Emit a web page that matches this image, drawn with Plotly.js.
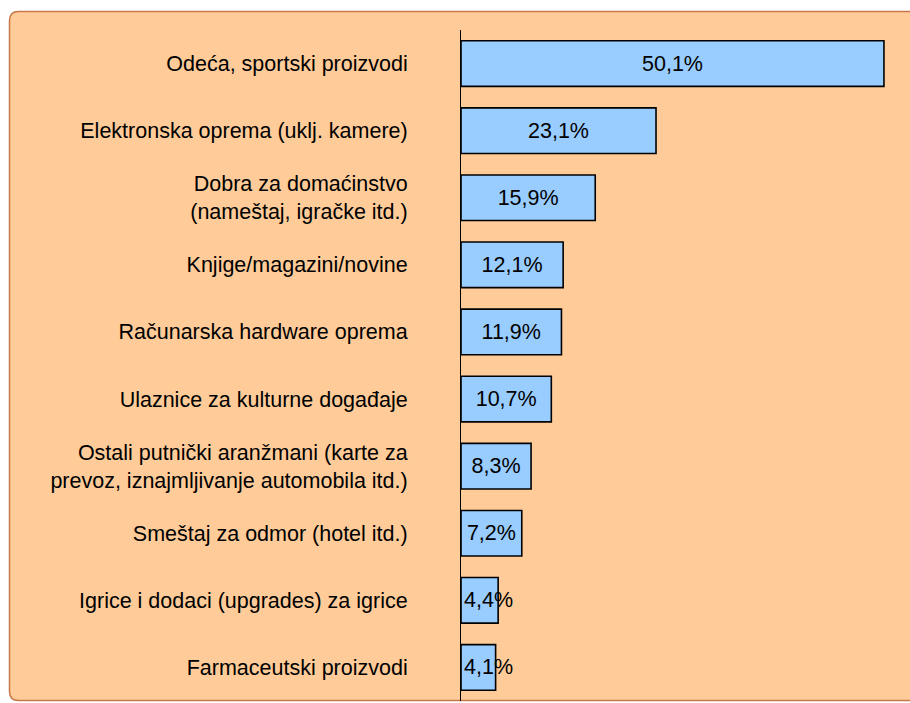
<!DOCTYPE html>
<html>
<head>
<meta charset="utf-8">
<script src="https://cdn.plot.ly/plotly-3.0.1.min.js"></script>
<style>html,body{margin:0;padding:0;background:#fff;}#chart{width:910px;height:703px;}</style>
</head>
<body>
<div id="chart"></div>
<script>
const categories = [
  "Odeća, sportski proizvodi",
  "Elektronska oprema (uklj. kamere)",
  "Dobra za domaćinstvo<br>(nameštaj, igračke itd.)",
  "Knjige/magazini/novine",
  "Računarska hardware oprema",
  "Ulaznice za kulturne događaje",
  "Ostali putnički aranžmani (karte za<br>prevoz, iznajmljivanje automobila itd.)",
  "Smeštaj za odmor (hotel itd.)",
  "Igrice i dodaci (upgrades) za igrice",
  "Farmaceutski proizvodi"
];
const values = [50.1, 23.1, 15.9, 12.1, 11.9, 10.7, 8.3, 7.2, 4.4, 4.1];
const labels = ["50,1%", "23,1%", "15,9%", "12,1%", "11,9%", "10,7%", "8,3%", "7,2%", "4,4%", "4,1%"];

const W = 910, H = 703;
const mL = 461, mR = 10, mT = 30, mB = 2;
const pw = W - mL - mR, ph = H - mT - mB;
const px = v => (v - mL) / pw;
const py = v => (H - mB - v) / ph;

const FONT = '"Liberation Sans", Arial, sans-serif';

function splitTrace(filterFn, anchor) {
  const idx = values.map((v, i) => i).filter(i => filterFn(values[i]));
  return {
    type: 'bar',
    orientation: 'h',
    y: idx.map(i => categories[i]),
    x: idx.map(i => values[i]),
    text: idx.map(i => labels[i]),
    textposition: 'inside',
    insidetextanchor: anchor,
    textangle: 0,
    constraintext: 'none',
    textfont: {family: FONT, size: 21.5, color: '#000'},
    marker: {color: '#99CCFF', line: {color: '#000', width: 1.6}},
    width: 0.68,
    hoverinfo: 'none',
    cliponaxis: false
  };
}

const traces = [
  splitTrace(v => v >= 5, 'middle'),
  splitTrace(v => v < 5, 'start')
];

// rounded panel path
const L = 9.5, T = 11.5, R = 925, B = 700.5, rr = 9;
const path = `M ${px(L)} ${py(T + rr)} Q ${px(L)} ${py(T)} ${px(L + rr)} ${py(T)} L ${px(R)} ${py(T)} L ${px(R)} ${py(B)} L ${px(L + rr)} ${py(B)} Q ${px(L)} ${py(B)} ${px(L)} ${py(B - rr)} Z`;

const layout = {
  width: W, height: H,
  margin: {l: mL, r: mR, t: mT, b: mB, pad: 0},
  paper_bgcolor: '#ffffff',
  plot_bgcolor: 'rgba(0,0,0,0)',
  showlegend: false,
  barmode: 'overlay',
  font: {family: FONT, size: 21.5, color: '#000'},
  xaxis: {range: [0, 52.0], visible: false, fixedrange: true},
  yaxis: {
    type: 'category',
    categoryorder: 'array',
    categoryarray: categories,
    autorange: 'reversed',
    showline: true, linecolor: '#000', linewidth: 1,
    showgrid: false, zeroline: false,
    ticks: '',
    ticklabelstandoff: 48,
    tickfont: {family: FONT, size: 21.5, color: '#000'},
    fixedrange: true
  },
  shapes: [{
    type: 'path', xref: 'paper', yref: 'paper', layer: 'below',
    path: path,
    fillcolor: '#FFCC99',
    line: {color: '#C87848', width: 1.5}
  }]
};

Plotly.newPlot('chart', traces, layout, {displayModeBar: false, staticPlot: true});
</script>
</body>
</html>
